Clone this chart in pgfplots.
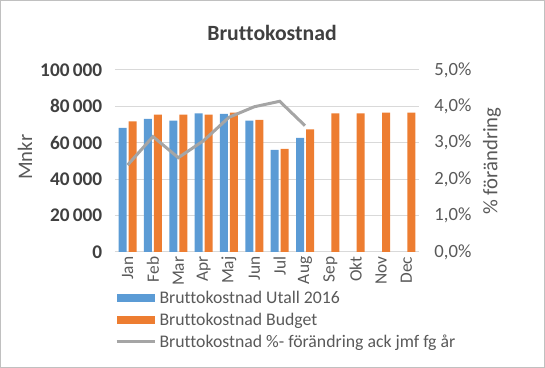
\documentclass[border=0pt]{standalone}
\usepackage{pgfplots}
\pgfplotsset{compat=1.18}
\usepackage{fontspec}
\setmainfont[Ligatures=NoCommon]{Carlito}
\definecolor{cblue}{HTML}{5B9BD5}
\definecolor{corange}{HTML}{ED7D31}
\definecolor{cgray}{HTML}{A5A5A5}
\definecolor{cgrid}{HTML}{D9D9D9}
\definecolor{ctext}{HTML}{595959}
\begin{document}
\begin{tikzpicture}
\draw[cgray!70, line width=0.75pt] (0.4pt,0.4pt) rectangle (408.35pt,275.6pt);
\node[font=\fontsize{16.3}{18}\selectfont\bfseries, text=black!75, anchor=center] at (204pt,251pt) {Bruttokostnad};
\begin{axis}[
  at={(86.25pt,87pt)}, anchor=south west,
  scale only axis, width=228pt, height=136.5pt,
  scaled ticks=false,
  ybar=1.5pt, bar width=6pt,
  xmin=-0.5, xmax=11.5, ymin=0, ymax=100000,
  xtick={0,...,11},
  xticklabels={Jan,Feb,Mar,Apr,Maj,Jun,Jul,Aug,Sep,Okt,Nov,Dec},
  x tick label style={rotate=90, anchor=east, font=\fontsize{13}{14}\selectfont, text=ctext},
  ytick={0,20000,40000,60000,80000,100000},
  yticklabels={0,20\,000,40\,000,60\,000,80\,000,100\,000},
  y tick label style={font=\fontsize{14.5}{16}\selectfont\bfseries, text=black!75, xshift=-6pt},
  ymajorgrids, grid style={cgrid, line width=0.75pt},
  axis line style={draw=none},
  major tick length=0pt,
  ylabel={Mnkr}, ylabel style={font=\fontsize{15.5}{17}\selectfont, text=ctext,
    at={(axis description cs:-0.296,0.52)}, anchor=center},
  enlarge x limits=false,
]
\addplot[fill=cblue, draw=none] coordinates {(0,68200) (1,73100) (2,72200) (3,76200) (4,75900) (5,72200) (6,56100) (7,62700)};
\addplot[fill=corange, draw=none] coordinates {(0,71700) (1,75500) (2,75500) (3,75500) (4,76600) (5,72600) (6,56700) (7,67300) (8,76200) (9,76200) (10,76600) (11,76600)};
\end{axis}
\begin{axis}[
  at={(86.25pt,87pt)}, anchor=south west,
  scale only axis, width=228pt, height=136.5pt,
  scaled ticks=false,
  xmin=-0.5, xmax=11.5, ymin=0, ymax=0.05,
  axis y line*=right, axis x line=none,
  xtick=\empty,
  ytick={0,0.01,0.02,0.03,0.04,0.05},
  yticklabels={0{,}0\%,1{,}0\%,2{,}0\%,3{,}0\%,4{,}0\%,5{,}0\%},
  y tick label style={font=\fontsize{14}{15}\selectfont, text=ctext, xshift=8pt},
  axis line style={draw=none},
  major tick length=0pt,
  ylabel={\% förändring}, ylabel style={font=\fontsize{15.5}{17}\selectfont, text=ctext,
    at={(axis description cs:1.24,0.5)}, anchor=center},
  legend style={at={(0,-0.2)}, anchor=north west, draw=none, fill=none,
    font=\fontsize{13.3}{14}\selectfont, text=ctext, row sep=1.5pt,
    legend cell align=left, inner sep=0pt},
  legend image code/.code={\fill[#1] (0pt,-3pt) rectangle (29pt,3pt);},
]
\addlegendimage{fill=cblue, draw=none}
\addlegendentry{Bruttokostnad Utall 2016}
\addlegendimage{fill=corange, draw=none}
\addlegendentry{Bruttokostnad Budget}
\addplot[cgray, line width=2.25pt, mark=none,
  legend image code/.code={\draw[cgray, line width=2.25pt] (0pt,0pt) -- (29pt,0pt);}]
  coordinates {(0,0.0239) (1,0.0317) (2,0.0259) (3,0.0306) (4,0.0370) (5,0.0399) (6,0.0414) (7,0.0347)};
\addlegendentry{Bruttokostnad \%- förändring ack jmf fg år}
\end{axis}
\end{tikzpicture}
\end{document}
